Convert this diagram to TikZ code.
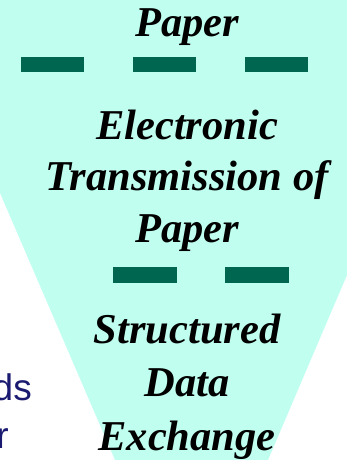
\documentclass[tikz,border=0pt]{standalone}
\usepackage{fontspec}
\setmainfont{Liberation Serif}
\setsansfont{Liberation Sans}

\definecolor{funnelCyan}{HTML}{C0FFF0}
\definecolor{dashGreen}{HTML}{006650}
\definecolor{sideNavy}{HTML}{1A1A70}

\tikzset{
  stage/.style={inner sep=0pt, font=\fontsize{42.5}{50}\selectfont\bfseries\itshape},
  side/.style={inner sep=0pt, text=sideNavy, font=\fontsize{37}{44}\selectfont\sffamily}
}

\begin{document}
\begin{tikzpicture}[x=1pt, y=-1pt]
  \newcommand{\stageLine}[3]{
    \node[stage, anchor=base] (#1) at (187,#2) {#3};
  }

  \useasboundingbox (0,0) rectangle (347,460);

  % funnel
  \fill[funnelCyan] (0,0) -- (347,0) -- (347,275) -- (268,460)
    -- (115,460) -- (0,193) -- cycle;

  % stages
  \stageLine{paperTop}{37}{Paper}
  \stageLine{elecOne}{139}{Electronic}
  \stageLine{elecTwo}{190}{Transmission of}
  \stageLine{elecThree}{242}{Paper}
  \stageLine{dataOne}{343}{Structured}
  \stageLine{dataTwo}{396}{Data}
  \stageLine{dataThree}{450}{Exchange}

  % dashes between stages
  \foreach \xa in {21,133,245}
    \fill[dashGreen] (\xa,57) rectangle ++(63,15);
  \foreach \xa in {113,225}
    \fill[dashGreen] (\xa,267) rectangle ++(64,16);

  % clipped side text
  \node[side, anchor=base east] (sideOne) at (32,400) {ds};
  \node[side, anchor=base east] (sideTwo) at (9,448) {r};
\end{tikzpicture}
\end{document}
